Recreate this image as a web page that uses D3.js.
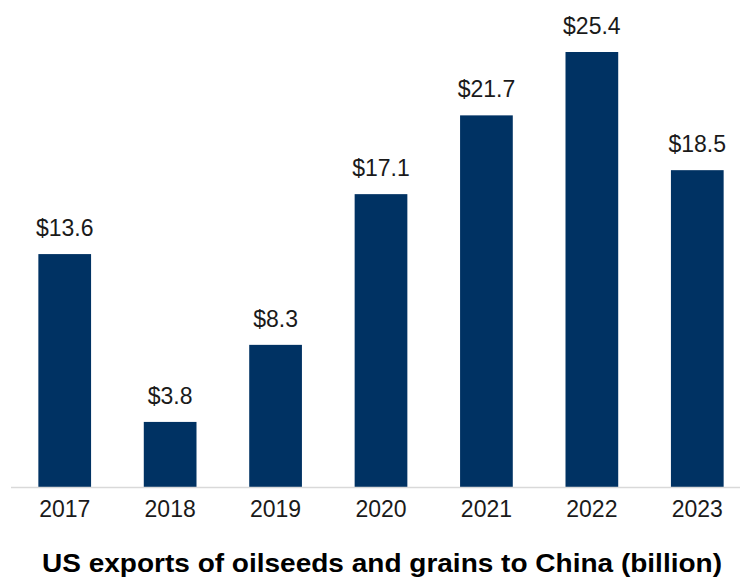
<!DOCTYPE html>
<html>
<head>
<meta charset="utf-8">
<script src="https://cdn.jsdelivr.net/npm/d3@7"></script>
<style>
  body { margin: 0; background: #fff; }
  svg { display: block; font-family: "Liberation Sans", Arial, sans-serif; }
  .domain { display: none; }
  .tick line { display: none; }
</style>
</head>
<body>
<div id="chart"></div>
<script>
(function() {
  'use strict';

  var years = ['2017', '2018', '2019', '2020', '2021', '2022', '2023'];
  var exportsBn = [13.6, 3.8, 8.3, 17.1, 21.7, 25.4, 18.5];
  var title = 'US exports of oilseeds and grains to China (billion)';

  var width = 740, height = 579;
  var baseline = 487;

  var svg = d3.select('#chart').append('svg')
    .attr('width', width)
    .attr('height', height);

  var x = d3.scaleBand()
    .domain(years)
    .range([12, 750])
    .paddingInner(0.5)
    .paddingOuter(0.25);

  var y = d3.scaleLinear()
    .domain([0, 25.4])
    .range([baseline, 52]);

  var data = years.map(function(d, i) {
    return { year: d, value: exportsBn[i] };
  });

  svg.selectAll('rect.bar')
    .data(data)
    .enter().append('rect')
    .attr('class', 'bar')
    .attr('x', function(d) { return x(d.year); })
    .attr('y', function(d) { return y(d.value); })
    .attr('width', x.bandwidth())
    .attr('height', function(d) { return baseline - y(d.value); })
    .attr('fill', '#003263');

  // baseline
  svg.append('line')
    .attr('x1', 11).attr('x2', width)
    .attr('y1', baseline + 0.5).attr('y2', baseline + 0.5)
    .attr('stroke', '#d9d9d9')
    .attr('stroke-width', 1.5);

  var xAxis = d3.axisBottom(x).tickSize(0).tickPadding(0);
  svg.append('g')
    .attr('class', 'x axis')
    .attr('transform', 'translate(0,' + baseline + ')')
    .call(xAxis)
    .selectAll('text')
    .attr('dy', null)
    .attr('y', 30)
    .attr('fill', '#1a1a1a')
    .style('font-size', '23px');

  svg.selectAll('text.val')
    .data(data)
    .enter().append('text')
    .attr('class', 'val')
    .attr('x', function(d) { return x(d.year) + x.bandwidth() / 2; })
    .attr('y', function(d) { return y(d.value) - 18; })
    .attr('text-anchor', 'middle')
    .attr('fill', '#1a1a1a')
    .style('font-size', '23px')
    .text(function(d) { return '$' + d.value.toFixed(1); });

  svg.append('text')
    .attr('x', 382)
    .attr('y', 572)
    .attr('text-anchor', 'middle')
    .attr('textLength', 680)
    .attr('lengthAdjust', 'spacingAndGlyphs')
    .attr('fill', '#000')
    .style('font-size', '25px')
    .style('font-weight', 'bold')
    .text(title);
})();
</script>
</body>
</html>
